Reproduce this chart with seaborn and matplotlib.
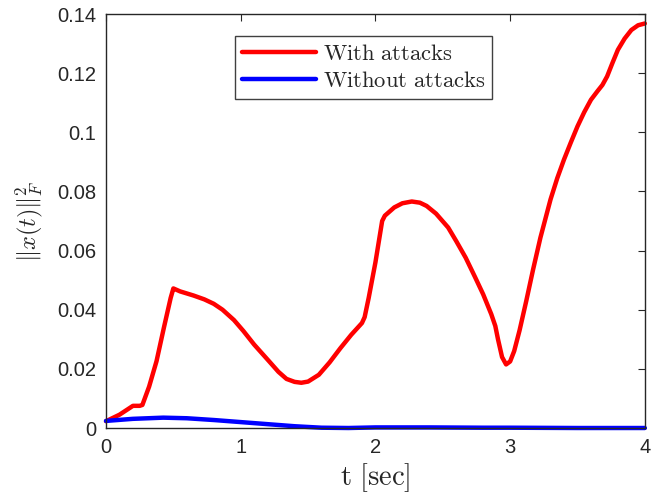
import numpy as np
import pandas as pd
import matplotlib
matplotlib.use("Agg")
import matplotlib.pyplot as plt
import seaborn as sns
from matplotlib.lines import Line2D

# ---- data ----
t_with = [0.00, 0.10, 0.20, 0.25, 0.27, 0.32, 0.375, 0.43, 0.48, 0.50, 0.52, 0.55,
          0.65, 0.73, 0.80, 0.865, 0.95, 1.02, 1.10, 1.21, 1.28, 1.34, 1.40, 1.45,
          1.50, 1.58, 1.66, 1.74, 1.82, 1.90, 1.92, 1.95, 2.00, 2.05, 2.07, 2.14,
          2.20, 2.27, 2.33, 2.38, 2.45, 2.54, 2.60, 2.67, 2.74, 2.80, 2.86, 2.89,
          2.91, 2.94, 2.97, 3.00, 3.03, 3.07, 3.12, 3.17, 3.225, 3.30, 3.35, 3.40,
          3.45, 3.50, 3.55, 3.60, 3.65, 3.685, 3.72, 3.76, 3.80, 3.85, 3.90, 3.95, 4.00]
y_with = [0.0023, 0.0045, 0.0075, 0.0075, 0.0078, 0.0140, 0.0226, 0.0340, 0.0440, 0.0472, 0.0468, 0.0462,
          0.0448, 0.0435, 0.0420, 0.0400, 0.0365, 0.0328, 0.0282, 0.0226, 0.0190, 0.0166, 0.0156, 0.0153,
          0.0157, 0.0180, 0.0222, 0.0270, 0.0315, 0.0355, 0.0375, 0.0440, 0.0560, 0.0700, 0.0718, 0.0746,
          0.0760, 0.0766, 0.0762, 0.0751, 0.0725, 0.0678, 0.0632, 0.0576, 0.0510, 0.0452, 0.0385, 0.0345,
          0.0300, 0.0240, 0.0215, 0.0225, 0.0260, 0.0330, 0.0430, 0.0535, 0.0644, 0.0773, 0.0845, 0.0908,
          0.0965, 0.1020, 0.1068, 0.1110, 0.1140, 0.1160, 0.1189, 0.1235, 0.1279, 0.1317, 0.1346, 0.1362, 0.1368]

t_without = [0.0, 0.2, 0.425, 0.6, 0.8, 1.0, 1.2, 1.4, 1.6, 1.8, 2.0, 2.4, 2.8, 3.0, 3.5, 4.0]
y_without = [0.0024, 0.0031, 0.0035, 0.0033, 0.0027, 0.0020, 0.0013, 0.0006, 0.0001, 0.0000,
             0.0002, 0.0002, 0.0001, 0.0001, 0.0000, 0.0000]

series_names = ["With attacks", "Without attacks"]
x_ticks = [0, 1, 2, 3, 4]
y_ticks = [0, 0.02, 0.04, 0.06, 0.08, 0.10, 0.12, 0.14]
y_tick_labels = ["0", "0.02", "0.04", "0.06", "0.08", "0.1", "0.12", "0.14"]

df = pd.concat([
    pd.DataFrame({"t": t_with, "v": y_with, "s": series_names[0]}),
    pd.DataFrame({"t": t_without, "v": y_without, "s": series_names[1]}),
])

sns.set_style("white")
plt.rcParams["font.family"] = ["Liberation Sans", "DejaVu Sans"]
plt.rcParams["mathtext.fontset"] = "cm"

fig = plt.figure(figsize=(6.52, 5.01), dpi=100)
ax = fig.add_axes([0.1626, 0.1457, 0.8264, 0.8263])

palette = {series_names[0]: "#ff0000", series_names[1]: "#0000ff"}
sns.lineplot(data=df, x="t", y="v", hue="s", palette=palette, linewidth=3.2,
             sort=False, estimator=None, ax=ax, legend=False)
for ln in ax.lines:
    ln.set_clip_on(False)
    ln.set_solid_capstyle("round")
    ln.set_solid_joinstyle("round")

ax.set_xlim(0, 4)
ax.set_ylim(0, 0.14)
ax.set_xticks(x_ticks)
ax.set_xticklabels([str(v) for v in x_ticks])
ax.set_yticks(y_ticks)
ax.set_yticklabels(y_tick_labels)

edge = "#262626"
for sp in ax.spines.values():
    sp.set_visible(True)
    sp.set_color(edge)
    sp.set_linewidth(1.0)
ax.tick_params(axis="both", direction="in", length=5, width=0.8, colors=edge,
               labelsize=14.5, labelcolor="#262626", top=True, right=True, pad=7)

ax.set_xlabel(r"$\mathrm{t\ [sec]}$", fontsize=20.5, color="#262626", labelpad=3)
ax.set_ylabel(r"$\|x(t)\|_F^2$", fontsize=17.5, color="#262626", labelpad=9)

handles = [Line2D([], [], color=palette[n], lw=3.2) for n in series_names]
labels = [r"$\mathrm{With\ attacks}$", r"$\mathrm{Without\ attacks}$"]
leg = ax.legend(handles, labels, loc="upper center", bbox_to_anchor=(0.5575, 0.929),
                bbox_transform=fig.transFigure, fontsize=16.3, handlelength=3.3,
                frameon=True, fancybox=False, framealpha=1, edgecolor="#404040",
                borderpad=0.3, labelspacing=0.15, handletextpad=0.3, borderaxespad=0)
leg.get_frame().set_linewidth(1.0)

fig.savefig("out.png", dpi=100)
